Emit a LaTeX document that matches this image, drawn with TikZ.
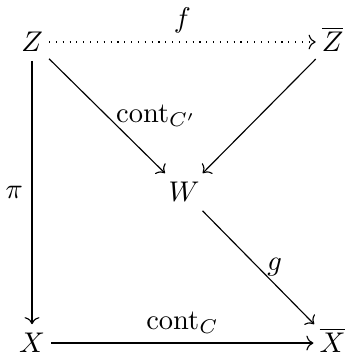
\documentclass[tikz,border=0pt]{standalone}
\usetikzlibrary{arrows.meta}

\begin{document}
\begin{tikzpicture}[
    obj/.style={inner sep=2pt, text height=7.8pt, text depth=1pt},
    map/.style={-{Computer Modern Rightarrow}},
    lbl/.style={inner sep=3pt}
]
\useasboundingbox (0,0) rectangle (4.257,-4.393);
\node[obj] (Z) at (0.395,-0.518) {$Z$};
\node[obj] (Zbar) at (4.105,-0.518) {$\overline{Z}$};
\node[obj] (W) at (2.271,-2.369) {$W$};
\node[obj] (X) at (0.395,-4.233) {$X$};
\node[obj] (Xbar) at (4.105,-4.233) {$\overline{X}$};
\draw[map, dotted] (Z) -- node[lbl, above] {$f$} (Zbar);
\draw[map] (Z) -- node[lbl, anchor=west] {$\mathrm{cont}_{C'}$} (W);
\draw[map] (Zbar) -- (W);
\draw[map] (Z) -- node[lbl, left] {$\pi$} (X);
\draw[map] (W) -- node[lbl, anchor=west] {$g$} (Xbar);
\draw[map] (X) -- node[lbl, above] {$\mathrm{cont}_C$} (Xbar);
\end{tikzpicture}
\end{document}
